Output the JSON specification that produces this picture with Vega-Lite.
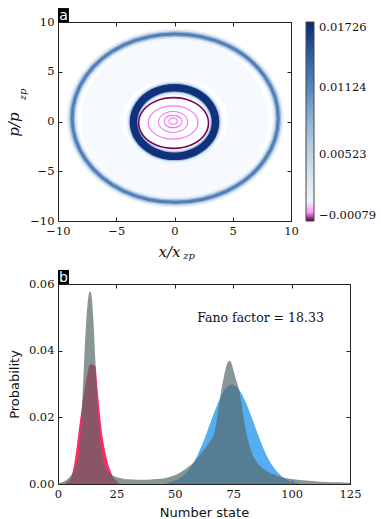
{
  "$schema": "https://vega.github.io/schema/vega-lite/v6.json",
  "padding": {"left": 6, "top": 7, "right": 0, "bottom": 0},
  "background": "white",
  "spacing": 8,
  "config": {
    "font": "DejaVu Sans",
    "view": {"stroke": "#222", "strokeWidth": 1},
    "axis": {
      "labelFont": "DejaVu Serif", "labelFontSize": 11.5, "labelColor": "#111",
      "tickColor": "#222", "tickSize": -4, "tickWidth": 1, "domain": false, "grid": false,
      "labelPadding": 8, "labelFlush": false, "labelOverlap": false,
      "titleFontWeight": "normal", "titleColor": "#111"
    }
  },
  "datasets": {
    "rings": [
      {"r":"H","k":0,"x":6.33,"y":0.15},{"r":"H","k":1,"x":5.49,"y":3.2},{"r":"H","k":2,"x":3.18,"y":5.43},{"r":"H","k":3,"x":0.03,"y":6.25},{"r":"H","k":4,"x":-3.12,"y":5.43},{"r":"H","k":5,"x":-5.43,"y":3.2},{"r":"H","k":6,"x":-6.27,"y":0.15},{"r":"H","k":7,"x":-5.43,"y":-2.9},{"r":"H","k":8,"x":-3.12,"y":-5.13},{"r":"H","k":9,"x":0.03,"y":-5.95},{"r":"H","k":10,"x":3.18,"y":-5.13},{"r":"H","k":11,"x":5.49,"y":-2.9},
      {"r":"O","k":0,"x":8.91,"y":0.34},{"r":"O","k":1,"x":7.72,"y":4.57},{"r":"O","k":2,"x":4.49,"y":7.67},{"r":"O","k":3,"x":0.06,"y":8.8},{"r":"O","k":4,"x":-4.37,"y":7.67},{"r":"O","k":5,"x":-7.6,"y":4.57},{"r":"O","k":6,"x":-8.79,"y":0.34},{"r":"O","k":7,"x":-7.6,"y":-3.89},{"r":"O","k":8,"x":-4.37,"y":-6.99},{"r":"O","k":9,"x":0.06,"y":-8.12},{"r":"O","k":10,"x":4.49,"y":-6.99},{"r":"O","k":11,"x":7.72,"y":-3.89},
      {"r":"I","k":0,"x":3.52,"y":-0.05},{"r":"I","k":1,"x":3.05,"y":1.68},{"r":"I","k":2,"x":1.76,"y":2.94},{"r":"I","k":3,"x":0,"y":3.4},{"r":"I","k":4,"x":-1.76,"y":2.94},{"r":"I","k":5,"x":-3.05,"y":1.68},{"r":"I","k":6,"x":-3.52,"y":-0.05},{"r":"I","k":7,"x":-3.05,"y":-1.78},{"r":"I","k":8,"x":-1.76,"y":-3.04},{"r":"I","k":9,"x":0,"y":-3.5},{"r":"I","k":10,"x":1.76,"y":-3.04},{"r":"I","k":11,"x":3.05,"y":-1.78},
      {"r":"P","k":0,"x":2.92,"y":-0.15},{"r":"P","k":1,"x":2.52,"y":1.13},{"r":"P","k":2,"x":1.42,"y":2.06},{"r":"P","k":3,"x":-0.08,"y":2.4},{"r":"P","k":4,"x":-1.58,"y":2.06},{"r":"P","k":5,"x":-2.68,"y":1.13},{"r":"P","k":6,"x":-3.08,"y":-0.15},{"r":"P","k":7,"x":-2.68,"y":-1.43},{"r":"P","k":8,"x":-1.58,"y":-2.36},{"r":"P","k":9,"x":-0.08,"y":-2.7},{"r":"P","k":10,"x":1.42,"y":-2.36},{"r":"P","k":11,"x":2.52,"y":-1.43},
      {"r":"K1","k":0,"x":2.02,"y":-0.1},{"r":"K1","k":1,"x":1.73,"y":0.74},{"r":"K1","k":2,"x":0.95,"y":1.35},{"r":"K1","k":3,"x":-0.12,"y":1.57},{"r":"K1","k":4,"x":-1.19,"y":1.35},{"r":"K1","k":5,"x":-1.97,"y":0.74},{"r":"K1","k":6,"x":-2.26,"y":-0.1},{"r":"K1","k":7,"x":-1.97,"y":-0.94},{"r":"K1","k":8,"x":-1.19,"y":-1.55},{"r":"K1","k":9,"x":-0.12,"y":-1.77},{"r":"K1","k":10,"x":0.95,"y":-1.55},{"r":"K1","k":11,"x":1.73,"y":-0.94},
      {"r":"K2","k":0,"x":1.14,"y":-0.05},{"r":"K2","k":1,"x":0.97,"y":0.48},{"r":"K2","k":2,"x":0.51,"y":0.86},{"r":"K2","k":3,"x":-0.12,"y":1.0},{"r":"K2","k":4,"x":-0.75,"y":0.86},{"r":"K2","k":5,"x":-1.21,"y":0.48},{"r":"K2","k":6,"x":-1.38,"y":-0.05},{"r":"K2","k":7,"x":-1.21,"y":-0.58},{"r":"K2","k":8,"x":-0.75,"y":-0.96},{"r":"K2","k":9,"x":-0.12,"y":-1.1},{"r":"K2","k":10,"x":0.51,"y":-0.96},{"r":"K2","k":11,"x":0.97,"y":-0.58},
      {"r":"K3","k":0,"x":0.65,"y":0},{"r":"K3","k":1,"x":0.55,"y":0.31},{"r":"K3","k":2,"x":0.27,"y":0.54},{"r":"K3","k":3,"x":-0.12,"y":0.62},{"r":"K3","k":4,"x":-0.51,"y":0.54},{"r":"K3","k":5,"x":-0.79,"y":0.31},{"r":"K3","k":6,"x":-0.89,"y":0},{"r":"K3","k":7,"x":-0.79,"y":-0.31},{"r":"K3","k":8,"x":-0.51,"y":-0.54},{"r":"K3","k":9,"x":-0.12,"y":-0.62},{"r":"K3","k":10,"x":0.27,"y":-0.54},{"r":"K3","k":11,"x":0.55,"y":-0.31},
      {"r":"K4","k":0,"x":0.24,"y":0.03},{"r":"K4","k":1,"x":0.19,"y":0.2},{"r":"K4","k":2,"x":0.06,"y":0.32},{"r":"K4","k":3,"x":-0.12,"y":0.36},{"r":"K4","k":4,"x":-0.3,"y":0.32},{"r":"K4","k":5,"x":-0.43,"y":0.2},{"r":"K4","k":6,"x":-0.48,"y":0.03},{"r":"K4","k":7,"x":-0.43,"y":-0.14},{"r":"K4","k":8,"x":-0.3,"y":-0.26},{"r":"K4","k":9,"x":-0.12,"y":-0.3},{"r":"K4","k":10,"x":0.06,"y":-0.26},{"r":"K4","k":11,"x":0.19,"y":-0.14}
    ],
    "dist": [
      {"s":"r","n":3,"p":0},{"s":"r","n":4,"p":0.0005},{"s":"r","n":5,"p":0.0012},{"s":"r","n":6,"p":0.0028},{"s":"r","n":7,"p":0.0062},{"s":"r","n":8,"p":0.011},{"s":"r","n":9,"p":0.0167},{"s":"r","n":10,"p":0.022},{"s":"r","n":11,"p":0.0268},{"s":"r","n":12,"p":0.031},{"s":"r","n":13,"p":0.0345},{"s":"r","n":14,"p":0.036},{"s":"r","n":15,"p":0.0358},{"s":"r","n":16,"p":0.0353},{"s":"r","n":17,"p":0.028},{"s":"r","n":18,"p":0.0205},{"s":"r","n":19,"p":0.0145},{"s":"r","n":20,"p":0.0105},{"s":"r","n":21,"p":0.0072},{"s":"r","n":22,"p":0.0048},{"s":"r","n":23,"p":0.003},{"s":"r","n":24,"p":0.0016},{"s":"r","n":25,"p":0.0008},{"s":"r","n":26,"p":0.0002},{"s":"r","n":27,"p":0},
      {"s":"b","n":46,"p":0},{"s":"b","n":48,"p":0.0006},{"s":"b","n":50,"p":0.001},{"s":"b","n":52,"p":0.0017},{"s":"b","n":54,"p":0.0028},{"s":"b","n":56,"p":0.0043},{"s":"b","n":58,"p":0.0064},{"s":"b","n":60,"p":0.0091},{"s":"b","n":62,"p":0.0123},{"s":"b","n":64,"p":0.016},{"s":"b","n":66,"p":0.0198},{"s":"b","n":68,"p":0.0235},{"s":"b","n":70,"p":0.0266},{"s":"b","n":72,"p":0.0288},{"s":"b","n":74,"p":0.0298},{"s":"b","n":76,"p":0.0294},{"s":"b","n":78,"p":0.0278},{"s":"b","n":80,"p":0.0251},{"s":"b","n":82,"p":0.0217},{"s":"b","n":84,"p":0.0179},{"s":"b","n":86,"p":0.0141},{"s":"b","n":88,"p":0.0106},{"s":"b","n":90,"p":0.0076},{"s":"b","n":92,"p":0.0053},{"s":"b","n":94,"p":0.0035},{"s":"b","n":96,"p":0.0022},{"s":"b","n":98,"p":0.0013},{"s":"b","n":100,"p":0.0007},{"s":"b","n":102,"p":0.0004},{"s":"b","n":104,"p":0},
      {"s":"g","n":0,"p":0.0002},{"s":"g","n":2,"p":0.0006},{"s":"g","n":4,"p":0.0014},{"s":"g","n":5,"p":0.0021},{"s":"g","n":6,"p":0.003},{"s":"g","n":7,"p":0.0042},{"s":"g","n":8,"p":0.006},{"s":"g","n":9,"p":0.0098},{"s":"g","n":10,"p":0.0195},{"s":"g","n":11,"p":0.034},{"s":"g","n":12,"p":0.048},{"s":"g","n":13,"p":0.0562},{"s":"g","n":13.7,"p":0.0578},{"s":"g","n":14.3,"p":0.0568},{"s":"g","n":15,"p":0.051},{"s":"g","n":16,"p":0.037},{"s":"g","n":17,"p":0.0225},{"s":"g","n":18,"p":0.0135},{"s":"g","n":19,"p":0.0088},{"s":"g","n":20,"p":0.0055},{"s":"g","n":22,"p":0.0032},{"s":"g","n":24,"p":0.0023},{"s":"g","n":26,"p":0.0019},{"s":"g","n":28,"p":0.0016},{"s":"g","n":30,"p":0.0014},{"s":"g","n":34,"p":0.0013},{"s":"g","n":38,"p":0.0013},{"s":"g","n":42,"p":0.0015},{"s":"g","n":44,"p":0.0016},{"s":"g","n":46,"p":0.0018},{"s":"g","n":48,"p":0.0022},{"s":"g","n":50,"p":0.0026},{"s":"g","n":52,"p":0.0033},{"s":"g","n":54,"p":0.0042},{"s":"g","n":56,"p":0.0053},{"s":"g","n":58,"p":0.0064},{"s":"g","n":60,"p":0.008},{"s":"g","n":62,"p":0.0098},{"s":"g","n":64,"p":0.0118},{"s":"g","n":66,"p":0.0138},{"s":"g","n":67,"p":0.0155},{"s":"g","n":68,"p":0.0195},{"s":"g","n":69,"p":0.024},{"s":"g","n":70,"p":0.0285},{"s":"g","n":71,"p":0.0322},{"s":"g","n":72,"p":0.0352},{"s":"g","n":73,"p":0.0368},{"s":"g","n":73.5,"p":0.037},{"s":"g","n":74,"p":0.0366},{"s":"g","n":75,"p":0.0345},{"s":"g","n":76,"p":0.0318},{"s":"g","n":77,"p":0.0295},{"s":"g","n":78,"p":0.0265},{"s":"g","n":79,"p":0.022},{"s":"g","n":80,"p":0.0178},{"s":"g","n":81,"p":0.0142},{"s":"g","n":82,"p":0.0115},{"s":"g","n":83,"p":0.0093},{"s":"g","n":84,"p":0.0078},{"s":"g","n":86,"p":0.0058},{"s":"g","n":88,"p":0.0045},{"s":"g","n":90,"p":0.0036},{"s":"g","n":93,"p":0.0027},{"s":"g","n":96,"p":0.002},{"s":"g","n":100,"p":0.0015},{"s":"g","n":105,"p":0.0011},{"s":"g","n":110,"p":0.0008},{"s":"g","n":115,"p":0.0006},{"s":"g","n":120,"p":0.0005},{"s":"g","n":125,"p":0.0004}
    ],
    "ann": [
      {"id":"a","x":-10,"x2":-9.06,"y":10,"y2":11.4,"tx":-9.53,"ty":10.65,"label":"a"},
      {"id":"b","x":0,"x2":4.7,"y":0.06,"y2":0.0642,"tx":2.35,"ty":0.0619,"label":"b"},
      {"id":"fano","tx":86.7,"ty":0.0498,"label":"Fano factor = 18.33"}
    ]
  },
  "vconcat": [
    {
      "width": 233, "height": 199,
      "data": {"name": "rings"},
      "encoding": {
        "x": {"field": "x", "type": "quantitative", "scale": {"domain": [-10, 10], "nice": false, "zero": false}, "axis": null},
        "y": {"field": "y", "type": "quantitative", "scale": {"domain": [-10, 10], "nice": false, "zero": false}, "axis": null},
        "order": {"field": "k", "type": "quantitative"}
      },
      "layer": [
        {
          "transform": [{"filter": "datum.r === 'H'"}],
          "mark": {"type": "line", "interpolate": "cardinal-closed", "strokeWidth": 40, "clip": true},
          "encoding": {
            "x": {"field": "x", "type": "quantitative", "scale": {"domain": [-10, 10], "nice": false, "zero": false},
              "axis": {"orient": "bottom", "values": [-10, -5, 0, 5, 10], "format": "d", "title": "x/x", "titleFont": "DejaVu Serif", "titleFontStyle": "italic", "titleFontSize": 15, "titleX": 111, "titleY": 35, "titleBaseline": "alphabetic", "titleAlign": "center"}},
            "y": {"field": "y", "type": "quantitative", "scale": {"domain": [-10, 10], "nice": false, "zero": false},
              "axis": {"orient": "left", "values": [-10, -5, 0, 5, 10], "format": "d", "title": "p/p", "titleFont": "DejaVu Serif", "titleFontStyle": "italic", "titleFontSize": 15, "titleAngle": -90, "titleX": -39.5, "titleY": 102, "titleBaseline": "alphabetic", "titleAlign": "center"}},
            "color": {"datum": 0.0003, "type": "quantitative",
              "scale": {"type": "linear", "clamp": true,
                "domain": [-0.00079, -0.0006, -0.0004, 0.00005, 0.0002, 0.0026, 0.00523, 0.0085, 0.01124, 0.0145, 0.01726],
                "range": ["#5a0040", "#a01580", "#f070f0", "#ff99ff", "#f7fbff", "#dde9f3", "#bfd4e5", "#8cb0d4", "#5a87bf", "#2d5a9e", "#0a2a75"]},
              "legend": {"values": [-0.00079, 0.00523, 0.01124, 0.01726], "format": ".5f", "title": null, "orient": "none", "legendX": 248, "legendY": 0, "padding": 0,
                "direction": "vertical", "gradientLength": 199, "gradientThickness": 8, "gradientStrokeColor": "#444", "gradientStrokeWidth": 1,
                "labelFont": "DejaVu Serif", "labelFontSize": 11.5, "labelOffset": 5, "labelColor": "#111", "labelBaseline": "middle"}}
          }
        },
        {
          "transform": [{"filter": "datum.r === 'O'"}],
          "mark": {"type": "line", "interpolate": "cardinal-closed", "strokeWidth": 11, "clip": true},
          "encoding": {
            "x": {"field": "x", "type": "quantitative", "scale": {"domain": [-10, 10], "nice": false, "zero": false},
              "axis": {"orient": "top", "values": [-10, -5, 0, 5, 10], "labels": false, "title": "zp", "titleFont": "DejaVu Serif", "titleFontStyle": "italic", "titleFontSize": 10, "titleX": 130.5, "titleY": 236, "titleBaseline": "alphabetic", "titleAlign": "center"}},
            "y": {"field": "y", "type": "quantitative", "scale": {"domain": [-10, 10], "nice": false, "zero": false},
              "axis": {"orient": "right", "values": [-10, -5, 0, 5, 10], "labels": false, "title": "zp", "titleFont": "DejaVu Serif", "titleFontStyle": "italic", "titleFontSize": 10, "titleAngle": -90, "titleX": -266, "titleY": 72, "titleBaseline": "alphabetic", "titleAlign": "center"}},
            "color": {"datum": 0.0012, "type": "quantitative"}
          }
        },
        {
          "transform": [{"filter": "datum.r === 'O'"}],
          "mark": {"type": "line", "interpolate": "cardinal-closed", "strokeWidth": 8, "clip": true},
          "encoding": {"color": {"datum": 0.0035, "type": "quantitative"}}
        },
        {
          "transform": [{"filter": "datum.r === 'O'"}],
          "mark": {"type": "line", "interpolate": "cardinal-closed", "strokeWidth": 5.5, "clip": true},
          "encoding": {"color": {"datum": 0.0075, "type": "quantitative"}}
        },
        {
          "transform": [{"filter": "datum.r === 'O'"}],
          "mark": {"type": "line", "interpolate": "cardinal-closed", "strokeWidth": 3, "clip": true},
          "encoding": {"color": {"datum": 0.0118, "type": "quantitative"}}
        },
        {
          "transform": [{"filter": "datum.r === 'I'"}],
          "mark": {"type": "line", "interpolate": "cardinal-closed", "strokeWidth": 14, "clip": true},
          "encoding": {"color": {"datum": 0.0018, "type": "quantitative"}}
        },
        {
          "transform": [{"filter": "datum.r === 'I'"}],
          "mark": {"type": "line", "interpolate": "cardinal-closed", "strokeWidth": 10, "clip": true},
          "encoding": {"color": {"datum": 0.007, "type": "quantitative"}}
        },
        {
          "transform": [{"filter": "datum.r === 'I'"}],
          "mark": {"type": "line", "interpolate": "cardinal-closed", "strokeWidth": 7.5, "clip": true},
          "encoding": {"color": {"datum": 0.0168, "type": "quantitative"}}
        },
        {
          "transform": [{"filter": "datum.r === 'P'"}],
          "mark": {"type": "line", "interpolate": "cardinal-closed", "strokeWidth": 1.6, "clip": true},
          "encoding": {"color": {"datum": -0.0007, "type": "quantitative"}}
        },
        {
          "transform": [{"filter": "datum.r === 'K1' || datum.r === 'K2' || datum.r === 'K3' || datum.r === 'K4'"}],
          "mark": {"type": "line", "interpolate": "cardinal-closed", "strokeWidth": 1.1, "clip": true},
          "encoding": {"color": {"datum": -0.0003, "type": "quantitative"}, "detail": {"field": "r", "type": "nominal"}}
        },
        {
          "data": {"name": "ann"},
          "transform": [{"filter": "datum.id === 'a'"}],
          "mark": {"type": "rect", "color": "black", "clip": false},
          "encoding": {
            "x": {"field": "x", "type": "quantitative", "scale": {"domain": [-10, 10], "nice": false, "zero": false}, "axis": null},
            "x2": {"field": "x2"},
            "y": {"field": "y", "type": "quantitative", "scale": {"domain": [-10, 10], "nice": false, "zero": false}, "axis": null},
            "y2": {"field": "y2"},
            "order": null
          }
        },
        {
          "data": {"name": "ann"},
          "transform": [{"filter": "datum.id === 'a'"}],
          "mark": {"type": "text", "color": "white", "font": "DejaVu Sans", "fontSize": 14, "baseline": "middle", "align": "center", "clip": false},
          "encoding": {
            "x": {"field": "tx", "type": "quantitative", "scale": {"domain": [-10, 10], "nice": false, "zero": false}, "axis": null},
            "y": {"field": "ty", "type": "quantitative", "scale": {"domain": [-10, 10], "nice": false, "zero": false}, "axis": null},
            "text": {"field": "label"},
            "order": null
          }
        }
      ],
      "resolve": {"axis": {"x": "independent", "y": "independent"}}
    },
    {
      "width": 292, "height": 200,
      "data": {"name": "dist"},
      "layer": [
        {
          "transform": [{"filter": "datum.s === 'r'"}],
          "mark": {"type": "area", "interpolate": "monotone", "color": "#ff2a62", "clip": true},
          "encoding": {
            "x": {"field": "n", "type": "quantitative", "scale": {"domain": [0, 125], "nice": false, "zero": false},
              "axis": {"orient": "bottom", "values": [0, 25, 50, 75, 100, 125], "format": "d", "title": "Number state", "titleFont": "DejaVu Sans", "titleFontSize": 13, "titleY": 32.5, "titleBaseline": "alphabetic"}},
            "y": {"field": "p", "type": "quantitative", "scale": {"domain": [0, 0.06], "nice": false, "zero": false},
              "axis": {"orient": "left", "values": [0, 0.02, 0.04, 0.06], "format": ".2f", "title": "Probability", "titleFont": "DejaVu Sans", "titleFontSize": 13, "titleAngle": -90, "titleX": -40, "titleY": 100, "titleBaseline": "alphabetic", "titleAlign": "center"}}
          }
        },
        {
          "transform": [{"filter": "datum.s === 'b'"}],
          "mark": {"type": "area", "interpolate": "monotone", "color": "#55aef2", "clip": true},
          "encoding": {
            "x": {"field": "n", "type": "quantitative", "scale": {"domain": [0, 125], "nice": false, "zero": false},
              "axis": {"orient": "top", "values": [0, 25, 50, 75, 100, 125], "labels": false, "title": null}},
            "y": {"field": "p", "type": "quantitative", "scale": {"domain": [0, 0.06], "nice": false, "zero": false},
              "axis": {"orient": "right", "values": [0, 0.02, 0.04, 0.06], "labels": false, "title": null}}
          }
        },
        {
          "transform": [{"filter": "datum.s === 'g'"}],
          "mark": {"type": "area", "interpolate": "monotone", "color": "#55696a", "opacity": 0.7, "clip": true},
          "encoding": {
            "x": {"field": "n", "type": "quantitative", "scale": {"domain": [0, 125], "nice": false, "zero": false}, "axis": null},
            "y": {"field": "p", "type": "quantitative", "scale": {"domain": [0, 0.06], "nice": false, "zero": false}, "axis": null}
          }
        },
        {
          "data": {"name": "ann"},
          "transform": [{"filter": "datum.id === 'b'"}],
          "mark": {"type": "rect", "color": "black", "clip": false},
          "encoding": {
            "x": {"field": "x", "type": "quantitative", "scale": {"domain": [0, 125], "nice": false, "zero": false}, "axis": null},
            "x2": {"field": "x2"},
            "y": {"field": "y", "type": "quantitative", "scale": {"domain": [0, 0.06], "nice": false, "zero": false}, "axis": null},
            "y2": {"field": "y2"}
          }
        },
        {
          "data": {"name": "ann"},
          "transform": [{"filter": "datum.id === 'b'"}],
          "mark": {"type": "text", "color": "white", "font": "DejaVu Sans", "fontSize": 14, "baseline": "middle", "align": "center", "clip": false},
          "encoding": {
            "x": {"field": "tx", "type": "quantitative", "scale": {"domain": [0, 125], "nice": false, "zero": false}, "axis": null},
            "y": {"field": "ty", "type": "quantitative", "scale": {"domain": [0, 0.06], "nice": false, "zero": false}, "axis": null},
            "text": {"field": "label"}
          }
        },
        {
          "data": {"name": "ann"},
          "transform": [{"filter": "datum.id === 'fano'"}],
          "mark": {"type": "text", "color": "#111", "font": "DejaVu Serif", "fontSize": 12.5, "baseline": "middle", "align": "center"},
          "encoding": {
            "x": {"field": "tx", "type": "quantitative", "scale": {"domain": [0, 125], "nice": false, "zero": false}, "axis": null},
            "y": {"field": "ty", "type": "quantitative", "scale": {"domain": [0, 0.06], "nice": false, "zero": false}, "axis": null},
            "text": {"field": "label"}
          }
        }
      ],
      "resolve": {"axis": {"x": "independent", "y": "independent"}}
    }
  ]
}
